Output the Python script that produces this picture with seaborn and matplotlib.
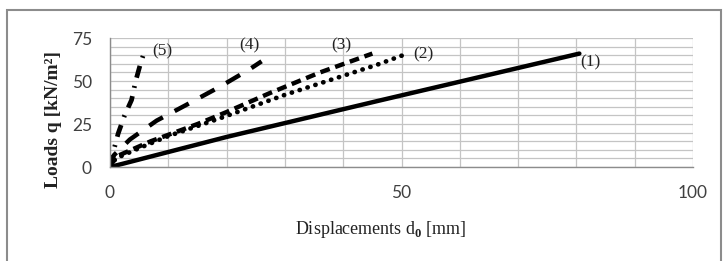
#!/usr/bin/env python3
"""Load-displacement curves for five slab cases."""

import matplotlib
matplotlib.use("Agg")
import matplotlib.pyplot as plt
from matplotlib.patches import Rectangle
import seaborn as sns
import pandas as pd

d1 = [0, 20, 46, 80.5]
q1 = [0, 17.5, 38.5, 66]

d2 = [0, 1, 5, 10, 19.4, 30, 45.8, 50.6]
q2 = [0, 5, 11, 18, 29, 42, 59.5, 65.5]

d3 = [0, 1, 7, 15, 20, 27.4, 36, 45]
q3 = [0, 6, 15, 25, 32, 43, 55, 66]

d4 = [0, 0.7, 3.4, 8, 13, 19, 24, 26]
q4 = [0, 7, 16, 27, 36, 47, 57, 61.5]

d5 = [0, 0.5, 1.4, 2.5, 3.7, 4.4, 5.3, 5.9]
q5 = [0, 8, 19.5, 30, 39, 50, 61, 67]

labels = ["(1)", "(2)", "(3)", "(4)", "(5)"]
label_x = [80.7, 52.0, 38.0, 22.2, 7.2]
label_y = [61.0, 65.5, 70.5, 70.5, 67.5]

series = [(d1, q1), (d2, q2), (d3, q3), (d4, q4), (d5, q5)]

# line looks per curve
styles = [
    dict(linestyle="-", linewidth=3.2),
    dict(linestyle=(0, (0.05, 1.7)), linewidth=3.4, dash_capstyle="round"),
    dict(linestyle=(0, (2.2, 1.3)), linewidth=3.2),
    dict(linestyle=(0, (3.6, 3.0)), linewidth=3.2),
    dict(linestyle=(0, (2.6, 1.8, 0.4, 1.8)), linewidth=3.4),
]


def main():
    sns.set_theme(style="white")
    plt.rcParams["font.family"] = ["Liberation Serif", "DejaVu Serif"]
    plt.rcParams["mathtext.fontset"] = "custom"
    plt.rcParams["mathtext.rm"] = "Liberation Serif"
    plt.rcParams["mathtext.bf"] = "Liberation Serif:bold"

    fig = plt.figure(figsize=(7.27, 2.61), dpi=100)
    ax = fig.add_axes([0.1513, 0.360, 0.802, 0.494])

    for (d, q), st in zip(series, styles):
        df = pd.DataFrame({"d": d, "q": q})
        sns.lineplot(data=df, x="d", y="q", ax=ax, color="black",
                     sort=False, estimator=None, **st)

    for lab, x, y in zip(labels, label_x, label_y):
        ax.text(x, y, lab, fontsize=12.5, color="#222222", ha="left", va="center")

    ax.set_xlim(0, 100)
    ax.set_ylim(0, 75)
    ax.set_xticks([0, 50, 100])
    ax.set_xticks(range(0, 101, 10), minor=True)
    ax.set_yticks([0, 25, 50, 75])
    ax.set_yticks(range(0, 76, 5), minor=True)
    ax.grid(which="both", color="#c4c4c4", linewidth=0.9)
    ax.set_axisbelow(True)

    for side in ["top", "right"]:
        ax.spines[side].set_visible(False)
    for side in ["left", "bottom"]:
        ax.spines[side].set_color("#8c8c8c")
        ax.spines[side].set_linewidth(1.0)

    ax.tick_params(axis="both", which="major", length=5, width=1.0,
                   color="#8c8c8c", labelsize=12.5, labelcolor="#404040")
    ax.tick_params(axis="x", which="major", direction="out", pad=8)
    ax.tick_params(axis="y", which="major", direction="out", pad=8)
    ax.tick_params(which="minor", length=0)
    for t in ax.get_xticklabels() + ax.get_yticklabels():
        t.set_family("Lato")

    ax.set_xlabel(r"Displacements d$_\mathbf{0}$ [mm]", fontsize=13,
                  color="#222222")
    ax.xaxis.set_label_coords(0.465, -0.40)
    ax.set_ylabel("Loads q [kN/m\u00b2]", fontsize=14, fontweight="bold",
                  color="#222222")
    ax.yaxis.set_label_coords(-0.082, 0.37)

    # outer chart frame
    fig.add_artist(Rectangle((0.009, -0.05), 0.983, 1.012,
                             transform=fig.transFigure, fill=False,
                             edgecolor="#8c8c8c", linewidth=1.5))

    fig.savefig("out.png", dpi=100)
    plt.close(fig)


if __name__ == "__main__":
    main()
